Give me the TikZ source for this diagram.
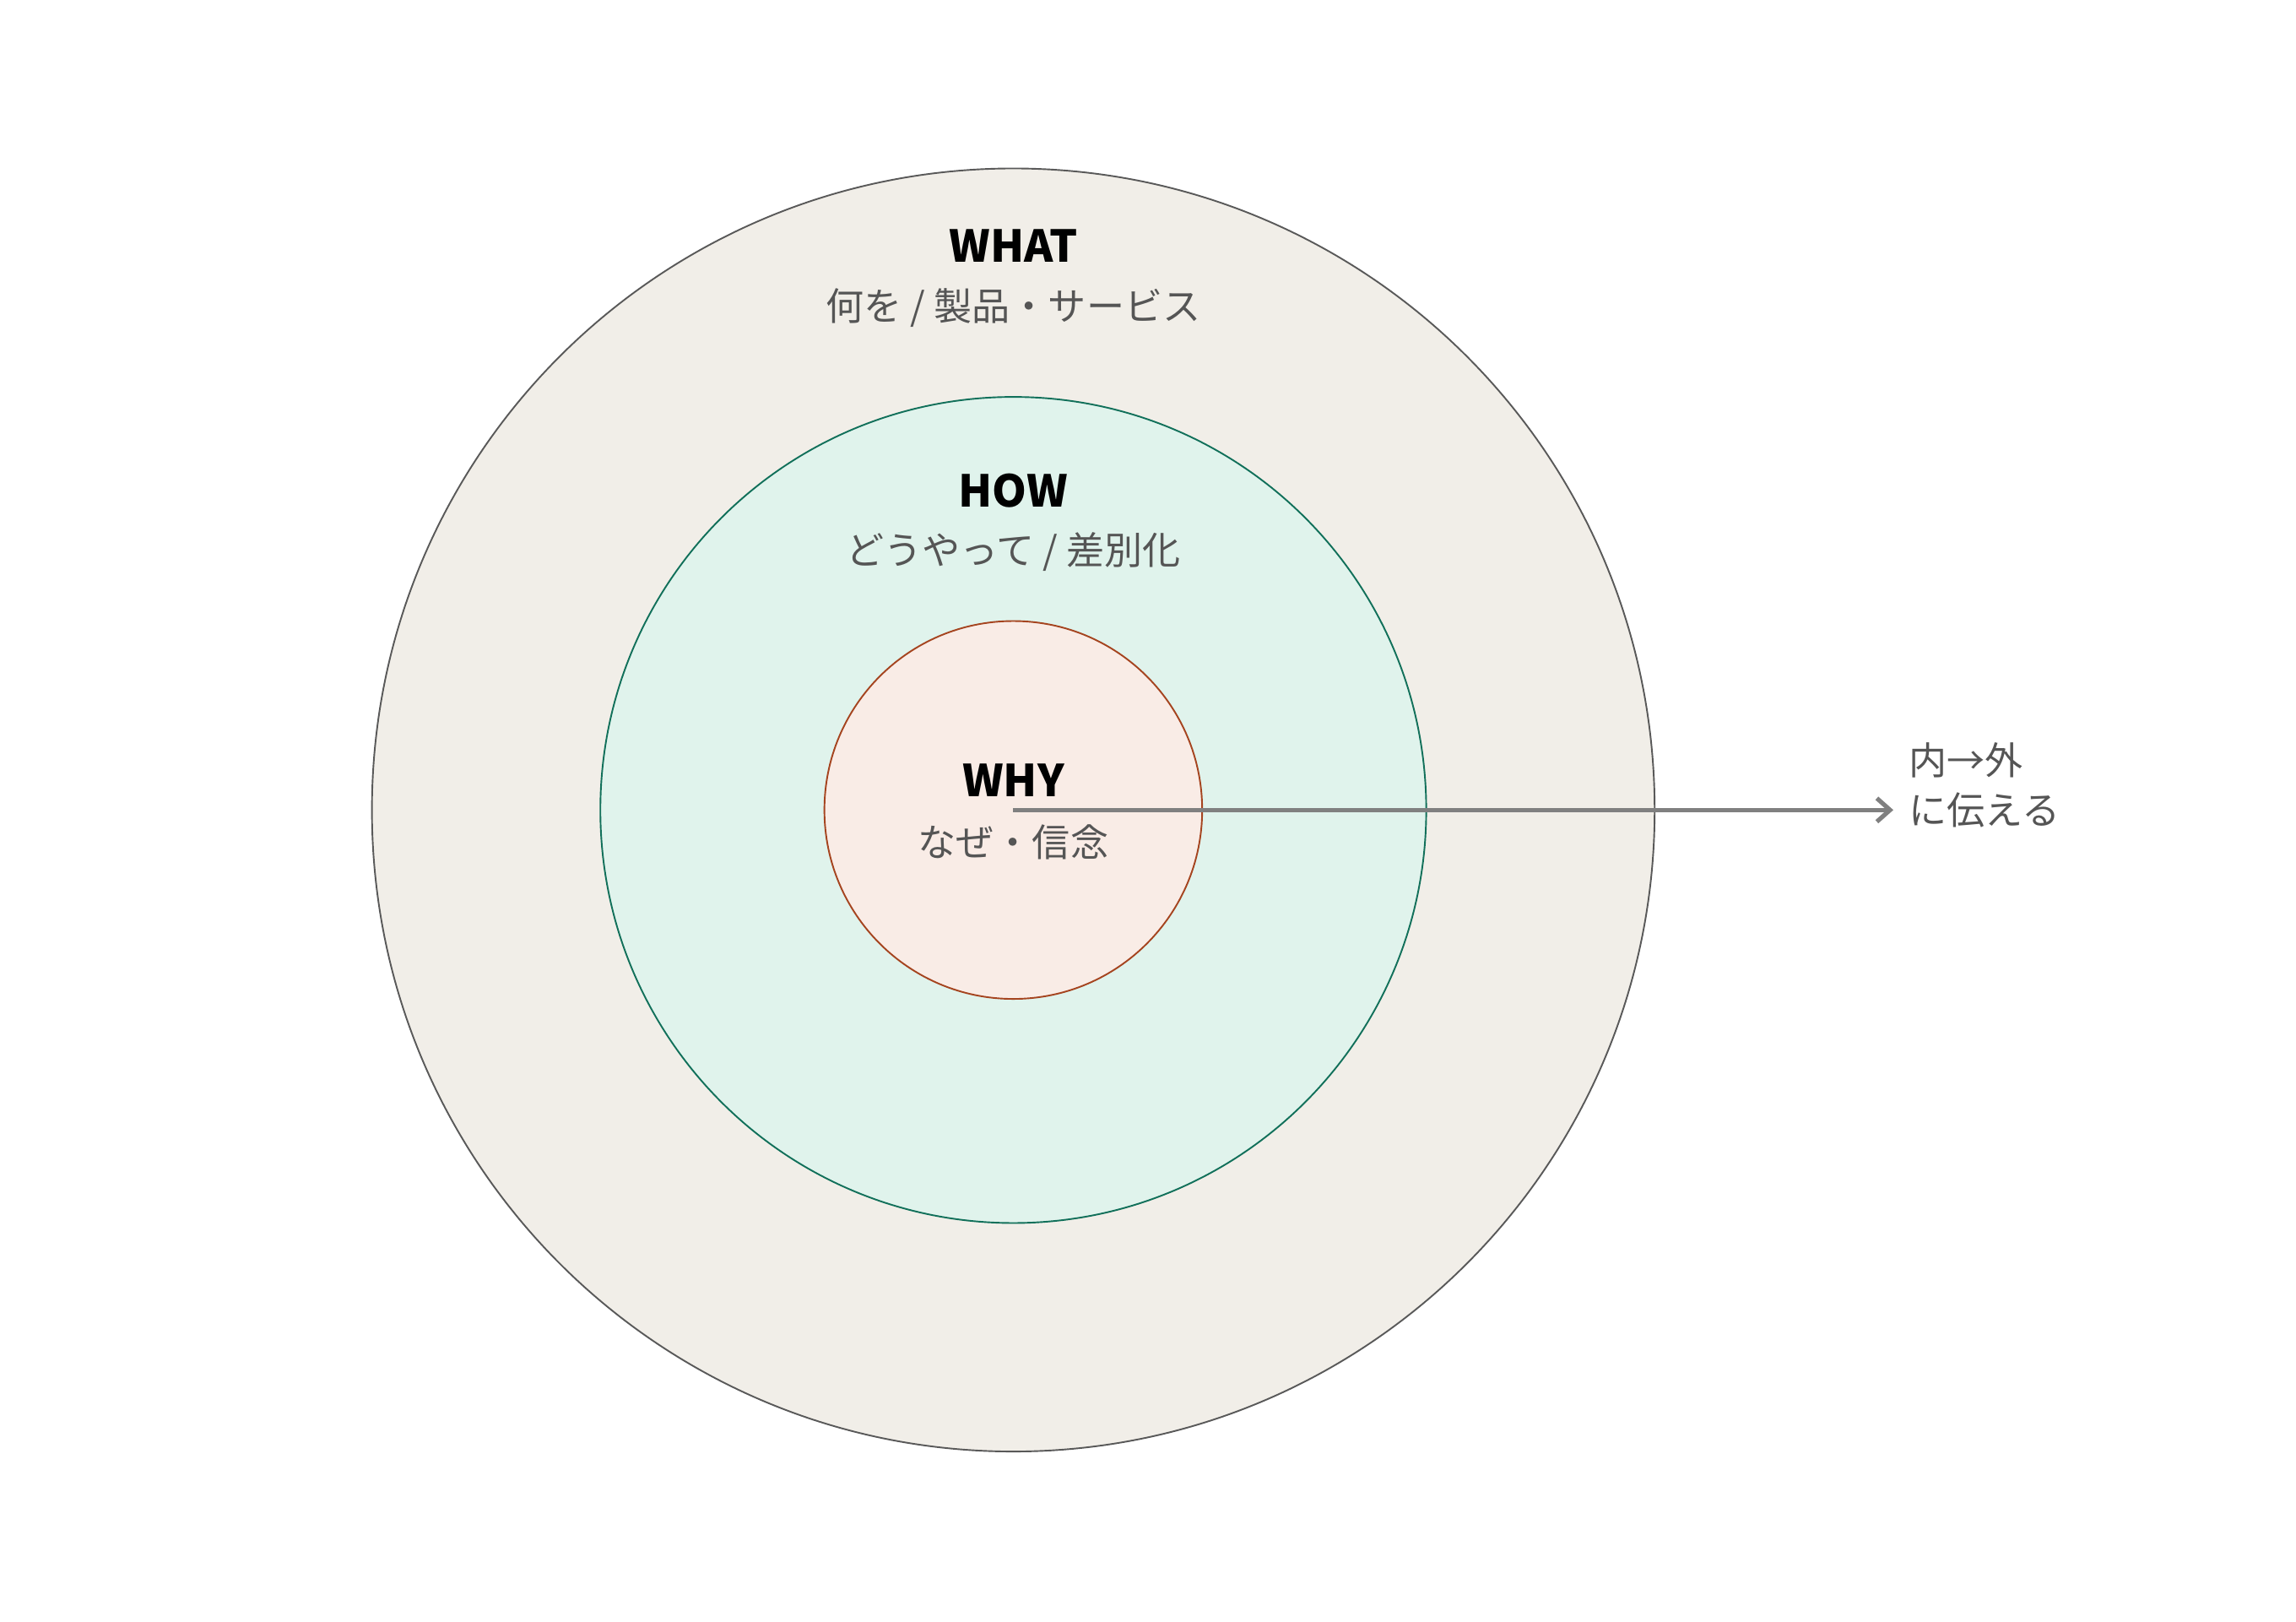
\documentclass[tikz,border=0pt]{standalone}
\usepackage{fontspec}
\setmainfont{Noto Sans CJK JP}
\usetikzlibrary{arrows.meta}
\definecolor{outerF}{HTML}{F1EEE8}
\definecolor{midF}{HTML}{E0F3EC}
\definecolor{midD}{HTML}{11705A}
\definecolor{innF}{HTML}{F9ECE6}
\definecolor{innD}{HTML}{A5441F}
\definecolor{txt}{HTML}{555555}
\begin{document}
\begin{tikzpicture}[x=1pt,y=1pt,
 ttl/.style={font=\fontsize{30}{32}\selectfont\bfseries,text=black},
 sub/.style={font=\fontsize{26}{30}\selectfont,text=txt},
 ring/.style={line width=1.1pt}]
\useasboundingbox (0,0) rectangle (1568,-1107);
\node[ring,circle,draw=black!65,fill=outerF,minimum size=876] (outer) at (692,-553) {};
\node[ring,circle,draw=midD,fill=midF,minimum size=564] (mid) at (692,-553) {};
\node[ring,circle,draw=innD,fill=innF,minimum size=258] (inn) at (692,-553) {};
\node[ttl] (t1) at (692,-168) {WHAT};
\node[sub] (s1) at (692,-210) {何を / 製品・サービス};
\node[ttl] (t2) at (692,-335) {HOW};
\node[sub] (s2) at (692,-377) {どうやって / 差別化};
\node[ttl] (t3) at (692,-533) {WHY};
\node[sub] (s3) at (692,-575) {なぜ・信念};
\coordinate (c) at (692,-553);
\coordinate (e) at (1293,-553);
\draw[line width=3pt,draw=black!50,-{Straight Barb[length=9pt,width=16pt,line width=3pt]}] (c) -- (e);
\node[sub,anchor=west,align=left] (lab) at (1300,-536) {内→外\\[4pt]に伝える};
\end{tikzpicture}
\end{document}
